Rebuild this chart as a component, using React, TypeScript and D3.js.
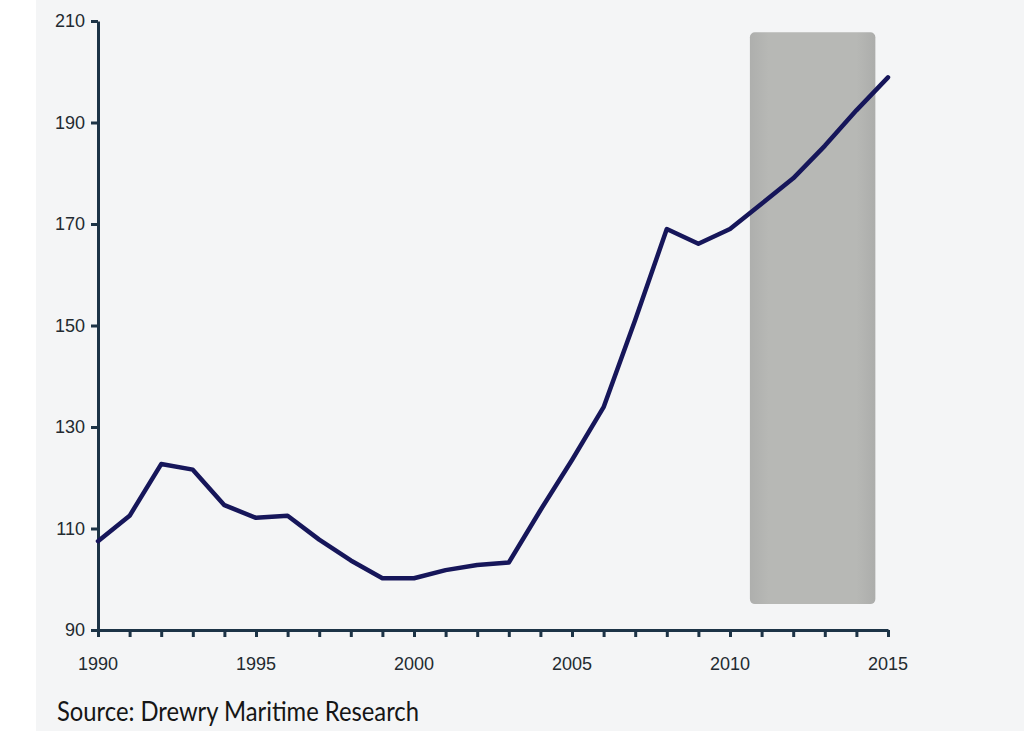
import React, { useEffect, useRef } from 'react'
import * as d3 from 'd3'

// ================================================================== //
// Line chart: index values 1990-2015, with a shaded forecast box
const years = [1990, 1991, 1992, 1993, 1994, 1995, 1996, 1997, 1998, 1999, 2000, 2001, 2002,
    2003, 2004, 2005, 2006, 2007, 2008, 2009, 2010, 2011, 2012, 2013, 2014, 2015]
const values = [107.5, 112.5, 122.7, 121.6, 114.6, 112.1, 112.5, 107.8, 103.7, 100.2, 100.2, 101.8, 102.8,
    103.3, 113.6, 123.5, 133.9, 151.1, 169.0, 166.1, 169.0, 174.0, 179.0, 185.4, 192.4, 198.9]
const yTicks = [90, 110, 130, 150, 170, 190, 210]
const xLabels = [1990, 1995, 2000, 2005, 2010, 2015]
// shaded box extent in data units
const boxYears = [2010.63, 2014.6]
const boxValues = [95.1, 207.8]
const sourceText = "Source: Drewry Maritime Research"

export default function App() {
    const ref = useRef<SVGSVGElement>(null)

    useEffect(() => {
        const svg = d3.select(ref.current)
        svg.selectAll("*").remove()

        const margin = { left: 98, top: 21 }
        const width = 790, height = 609

        const x = d3.scaleLinear().domain([1990, 2015]).range([0, width])
        const y = d3.scaleLinear().domain([90, 210]).range([height, 0])

        // background panel
        svg.append("rect")
            .attr("x", 36).attr("y", 0)
            .attr("width", 1024 - 36).attr("height", 731)
            .attr("fill", "#f4f5f6")

        const defs = svg.append("defs")
        const grad = defs.append("linearGradient").attr("id", "boxgrad")
            .attr("x1", "0").attr("x2", "1").attr("y1", "0").attr("y2", "0")
        grad.append("stop").attr("offset", "0%").attr("stop-color", "#aeafad")
        grad.append("stop").attr("offset", "15%").attr("stop-color", "#b7b8b5")
        grad.append("stop").attr("offset", "85%").attr("stop-color", "#b7b8b5")
        grad.append("stop").attr("offset", "100%").attr("stop-color", "#acadab")

        const g = svg.append("g")
            .attr("transform", `translate(${margin.left},${margin.top})`)

        g.append("rect")
            .attr("x", x(boxYears[0]))
            .attr("y", y(boxValues[1]))
            .attr("width", x(boxYears[1]) - x(boxYears[0]))
            .attr("height", y(boxValues[0]) - y(boxValues[1]))
            .attr("rx", 5)
            .attr("fill", "url(#boxgrad)")

        const axisColor = "#1c3346"

        // x axis
        const xAxis = g.append("g")
            .attr("transform", `translate(0,${height})`)
            .call(d3.axisBottom(x).tickValues(years).tickSize(7).tickSizeOuter(0).tickFormat(() => ""))
        xAxis.select(".domain").attr("stroke", axisColor).attr("stroke-width", 3)
        xAxis.selectAll("line").attr("stroke", axisColor).attr("stroke-width", 3)

        g.append("g").selectAll("text")
            .data(xLabels)
            .enter()
            .append("text")
            .attr("x", d => x(d))
            .attr("y", height + 40)
            .attr("text-anchor", "middle")
            .attr("font-family", "Liberation Sans, Arial, sans-serif")
            .attr("font-size", 18)
            .attr("fill", "#232a30")
            .text(d => d)

        // y axis
        const yAxis = g.append("g")
            .call(d3.axisLeft(y).tickValues(yTicks).tickSize(7).tickSizeOuter(0).tickPadding(6))
        yAxis.select(".domain").attr("stroke", axisColor).attr("stroke-width", 3)
        yAxis.selectAll("line").attr("stroke", axisColor).attr("stroke-width", 3)
        yAxis.selectAll("text")
            .attr("font-family", "Liberation Sans, Arial, sans-serif")
            .attr("font-size", 18)
            .attr("fill", "#232a30")

        // line
        const line = d3.line<number>()
            .x((d, i) => x(years[i]))
            .y(d => y(d))
        g.append("path")
            .datum(values)
            .attr("d", line)
            .attr("fill", "none")
            .attr("stroke", "#16165a")
            .attr("stroke-width", 4.5)
            .attr("stroke-linejoin", "round")
            .attr("stroke-linecap", "round")

        svg.append("text")
            .attr("x", 57)
            .attr("y", 721)
            .attr("font-family", "Lato, sans-serif")
            .attr("font-size", 26)
            .attr("fill", "#161616")
            .attr("textLength", 362)
            .attr("lengthAdjust", "spacingAndGlyphs")
            .text(sourceText)
    }, [])

    return (
        <svg ref={ref} width={1024} height={731}
            style={{ position: "absolute", left: 0, top: 0, background: "#ffffff" }} />
    )
}
